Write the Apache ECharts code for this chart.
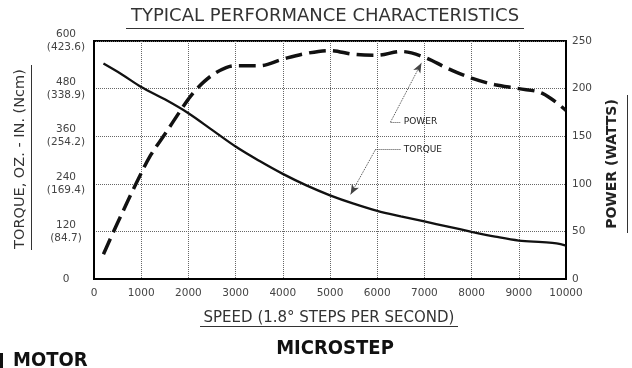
<!DOCTYPE html>
<html>
<head>
<meta charset="utf-8">
<script src="https://cdn.jsdelivr.net/npm/echarts@6/dist/echarts.min.js"></script>
<style>html,body{margin:0;padding:0;background:#fff;}#c{width:632px;height:368px;}</style>
</head>
<body>
<div id="c"></div>
<script>
// ---- data ----
var speedTicks = [0,1000,2000,3000,4000,5000,6000,7000,8000,9000,10000];
var torqueTickLabels = ['0','120\n(84.7)','240\n(169.4)','360\n(254.2)','480\n(338.9)','600\n(423.6)'];
var powerTickLabels = ['0','50','100','150','200','250'];

var torqueSpeed = [200,600,1000,1500,2000,2500,3000,3500,4000,4500,5000,5500,6000,6500,7000,7500,8000,8500,9000,9500,9800,10000];
var torqueValues = [543,515,484,453,418,376,334,298,265,236,211,190,172,158,145,132,119,107,97,93,90,84];

var powerSpeed = [200,500,900,1200,1500,1820,2000,2200,2500,2800,3000,3500,4000,4500,5000,5500,6000,6500,7000,7500,8000,8500,9000,9500,10000];
var powerValues = [26,59,101,130,152,176,189,201,214,222,224,224,231,237,240,236,235,239,233,221,211,204,200,195,177];

// annotation leaders (data units)
var powerLeader = {from:[6284,165], to:[6937,227], labelFrom:[6284,165], labelTo:[6500,165]};
var torqueLeader = {from:[5962,326], to:[5436,213], labelFrom:[5962,326], labelTo:[6500,326]};

function pairs(xs, ys){ return xs.map(function(x,i){ return [x, ys[i]]; }); }

var FONT = 'DejaVu Sans';
var chart = echarts.init(document.getElementById('c'), null, {renderer:'canvas'});
chart.setOption({
  backgroundColor:'#fff',
  animation:false,
  grid:{left:94, right:66, top:41, bottom:89, show:true, borderColor:'#000', borderWidth:2, backgroundColor:'transparent'},
  xAxis:{
    type:'value', min:0, max:10000, interval:1000,
    axisLine:{show:true, lineStyle:{color:'#000', width:2}},
    axisTick:{show:false},
    axisLabel:{color:'#444', fontFamily:FONT, fontSize:10.5, margin:9,
      formatter:function(v){ return String(v); }},
    splitLine:{show:true, lineStyle:{color:'#666', type:'dotted', width:1}}
  },
  yAxis:[{
    type:'value', min:0, max:600, interval:120, position:'left',
    axisLine:{show:true, lineStyle:{color:'#000', width:2}},
    axisTick:{show:false},
    axisLabel:{color:'#444', fontFamily:FONT, fontSize:10.5, align:'center', margin:28, lineHeight:13,
      formatter:function(v){ return torqueTickLabels[Math.round(v/120)]; }},
    splitLine:{show:true, lineStyle:{color:'#666', type:'dotted', width:1}}
  },{
    type:'value', min:0, max:250, interval:50, position:'right',
    axisLine:{show:true, lineStyle:{color:'#000', width:2}},
    axisTick:{show:false},
    axisLabel:{color:'#444', fontFamily:FONT, fontSize:10.5, margin:6,
      formatter:function(v){ return powerTickLabels[Math.round(v/50)]; }},
    splitLine:{show:false}
  }],
  series:[{
    name:'TORQUE', type:'line', yAxisIndex:0, smooth:0.35, symbol:'none',
    lineStyle:{color:'#111', width:2.3},
    data:pairs(torqueSpeed, torqueValues),
    markLine:{
      silent:true, symbol:['none','none'], animation:false,
      lineStyle:{color:'#444', type:'dotted', width:1},
      label:{show:false},
      data:[
        [{coord:torqueLeader.from, symbol:'none'},{coord:torqueLeader.to, symbol:'arrow', symbolSize:[6,10]}],
        [{coord:torqueLeader.labelFrom, label:{show:true, position:'end', formatter:'TORQUE', color:'#222', fontFamily:FONT, fontSize:9, distance:3}},
         {coord:torqueLeader.labelTo}]
      ]
    }
  },{
    name:'POWER', type:'line', yAxisIndex:1, smooth:0.35, symbol:'none',
    lineStyle:{color:'#111', width:3.5, type:[17,7]},
    data:pairs(powerSpeed, powerValues),
    markLine:{
      silent:true, symbol:['none','none'], animation:false,
      lineStyle:{color:'#444', type:'dotted', width:1},
      label:{show:false},
      data:[
        [{coord:powerLeader.from, symbol:'none'},{coord:powerLeader.to, symbol:'arrow', symbolSize:[6,10]}],
        [{coord:powerLeader.labelFrom, label:{show:true, position:'end', formatter:'POWER', color:'#222', fontFamily:FONT, fontSize:9, distance:3}},
         {coord:powerLeader.labelTo}]
      ]
    }
  }],
  graphic:[
    {type:'text', x:325, y:16, style:{text:'TYPICAL PERFORMANCE CHARACTERISTICS', fill:'#333', font:'18px "DejaVu Sans"', align:'center', verticalAlign:'middle'}},
    {type:'line', shape:{x1:126, y1:28.5, x2:524, y2:28.5}, style:{stroke:'#333', lineWidth:1}},
    {type:'text', x:329, y:318, style:{text:'SPEED (1.8° STEPS PER SECOND)', fill:'#333', font:'15px "DejaVu Sans"', align:'center', verticalAlign:'middle'}},
    {type:'line', shape:{x1:200, y1:326.5, x2:458, y2:326.5}, style:{stroke:'#333', lineWidth:1}},
    {type:'text', x:20, y:159, rotation:Math.PI/2, style:{text:'TORQUE, OZ. - IN. (Ncm)', fill:'#333', font:'14.5px "DejaVu Sans"', align:'center', verticalAlign:'middle'}},
    {type:'line', shape:{x1:31.5, y1:65, x2:31.5, y2:250}, style:{stroke:'#333', lineWidth:1}},
    {type:'text', x:612, y:164, rotation:Math.PI/2, style:{text:'POWER (WATTS)', fill:'#222', font:'bold 14px "DejaVu Sans"', align:'center', verticalAlign:'middle'}},
    {type:'line', shape:{x1:627.5, y1:95, x2:627.5, y2:233}, style:{stroke:'#333', lineWidth:1}},
    {type:'text', x:335, y:349, style:{text:'MICROSTEP', fill:'#111', font:'bold 20px "Liberation Sans Narrow", "DejaVu Sans Condensed", sans-serif', align:'center', verticalAlign:'middle'}},
    {type:'text', x:13, y:361, style:{text:'MOTOR', fill:'#111', font:'bold 20px "Liberation Sans Narrow", "DejaVu Sans Condensed", sans-serif', align:'left', verticalAlign:'middle'}},
    {type:'rect', shape:{x:0, y:353, width:3, height:15}, style:{fill:'#111'}}
  ]
});
</script>
</body>
</html>
